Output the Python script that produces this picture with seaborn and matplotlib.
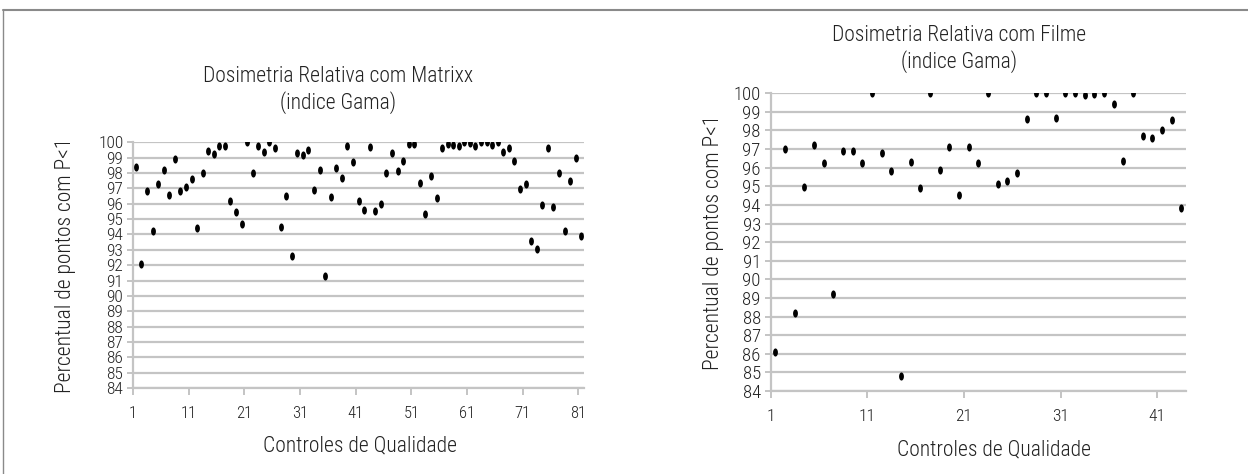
import numpy as np
import pandas as pd
import matplotlib
matplotlib.use("Agg")
import matplotlib.pyplot as plt
import seaborn as sns
from matplotlib.path import Path
from matplotlib.lines import Line2D
from matplotlib import font_manager

# ================== estilo ==================
sns.set_style("white")
nomes = {f.name for f in font_manager.fontManager.ttflist}
familia = 'Roboto Condensed' if 'Roboto Condensed' in nomes else 'Roboto'
plt.rcParams['font.family'] = [familia, 'DejaVu Sans']
plt.rcParams['font.weight'] = 'light'
plt.rcParams['text.color'] = '#222222'

# ================== dados ==================
matrixx = [
    98.4, 92.05, 96.8, 94.25, 97.3, 98.2, 96.6, 98.9, 96.8, 97.1,
    97.6, 94.4, 98.0, 99.45, 99.25, 99.75, 99.75, 96.2, 95.45, 94.7,
    100.0, 98.0, 99.75, 99.4, 100.0, 99.6, 94.5, 96.5, 92.6, 99.3,
    99.15, 99.5, 96.9, 98.2, 91.3, 96.45, 98.35, 97.65, 99.75, 98.7,
    96.15, 95.6, 99.7, 95.55, 95.95, 98.0, 99.3, 98.1, 98.8, 99.9,
    99.9, 97.35, 95.35, 97.8, 96.4, 99.6, 99.9, 99.8, 99.75, 100.0,
    99.95, 99.75, 100.0, 100.0, 99.85, 100.0, 99.4, 99.6, 98.8, 96.95,
    97.3, 93.6, 93.05, 95.9, 99.6, 95.8, 98.0, 94.2, 97.5, 98.95,
    93.9,
]
filme = [
    86.1, 97.0, 88.2, 94.95, 97.2, 96.25, 89.2, 96.9, 96.9, 96.25,
    100.0, 96.8, 95.85, 84.8, 96.3, 94.9, 100.0, 95.9, 97.1, 94.55,
    97.1, 96.25, 100.0, 95.15, 95.3, 95.7, 98.6, 100.0, 100.0, 98.65,
    100.0, 100.0, 99.9, 99.95, 100.0, 99.4, 96.35, 100.0, 97.7, 97.6,
    98.05, 98.55, 93.85,
]
titulos = ["Dosimetria Relativa com Matrixx\n(indice Gama)",
           "Dosimetria Relativa com Filme\n(indice Gama)"]
xlabel = "Controles de Qualidade"
ylabel = "Percentual de pontos com P<1"
y_ticks = list(range(84, 101))

df_m = pd.DataFrame({"controle": np.arange(1, len(matrixx) + 1), "gama": matrixx})
df_f = pd.DataFrame({"controle": np.arange(1, len(filme) + 1), "gama": filme})

# marcador eliptico (mais alto que largo)
t = np.linspace(0, 2 * np.pi, 41)
elipse = Path(np.column_stack([0.6 * np.cos(t), np.sin(t)]), closed=True)

# ================== figura ==================
fig = plt.figure(figsize=(12.48, 4.74), dpi=100)
ax1 = fig.add_axes([0.1066, 0.1814, 0.3614, 0.5184])
ax2 = fig.add_axes([0.6174, 0.1751, 0.3331, 0.6281])

grid_c = '#c4c4c4'
configs = [
    (ax1, df_m, 12.5, 12, (338, 90), (360, 446), (65, 265)),
    (ax2, df_f, 13.5, 12.5, (959, 49), (994, 450), (713, 242)),
]

for idx, (ax, df, ylab_size, xt_size, tpos, xlpos, ylpos) in enumerate(configs):
    n = len(df)
    sns.scatterplot(data=df, x="controle", y="gama", ax=ax, color='black',
                    marker=elipse, s=34, linewidth=0, zorder=3)
    ax.set_xlim(0.5, n + 0.5)
    ax.set_ylim(84, 100)
    ax.set_yticks(y_ticks)
    ax.set_yticklabels([str(v) for v in y_ticks])
    xt = list(range(1, n + 1, 10))
    ax.set_xticks([v - 0.5 for v in xt])
    ax.set_xticklabels([str(v) for v in xt])
    ax.set_xlabel("")
    ax.set_ylabel("")

    # linhas de grade horizontais
    ax.yaxis.grid(True, color=grid_c, linewidth=1.6)
    ax.xaxis.grid(False)
    ax.set_axisbelow(True)
    for s in ['top', 'right']:
        ax.spines[s].set_visible(False)
    for s in ['left', 'bottom']:
        ax.spines[s].set_color(grid_c)
        ax.spines[s].set_linewidth(1.6)
    ax.tick_params(axis='y', left=True, length=4, width=1.4, color=grid_c,
                   labelsize=ylab_size, pad=3, labelcolor='#222222')
    ax.tick_params(axis='x', bottom=True, length=5, width=1.4, color=grid_c,
                   labelsize=xt_size, pad=8, labelcolor='#222222')

    # textos
    fig.text(tpos[0] / 1248, 1 - tpos[1] / 474, titulos[idx], ha='center',
             va='center', fontsize=15.5, linespacing=1.2)
    fig.text(xlpos[0] / 1248, 1 - xlpos[1] / 474, xlabel, ha='center',
             va='center', fontsize=15.5)
    fig.text(ylpos[0] / 1248, 1 - ylpos[1] / 474, ylabel, ha='center',
             va='center', rotation=90, fontsize=15.5)

# moldura (topo e lateral esquerda)
fig.add_artist(Line2D([3 / 1248, 1], [1 - 10 / 474, 1 - 10 / 474],
                      color='#8a8a8a', linewidth=1.5, transform=fig.transFigure))
fig.add_artist(Line2D([3 / 1248, 3 / 1248], [0, 1 - 10 / 474],
                      color='#8a8a8a', linewidth=1.0, transform=fig.transFigure))

plt.savefig("out.png", dpi=100)
